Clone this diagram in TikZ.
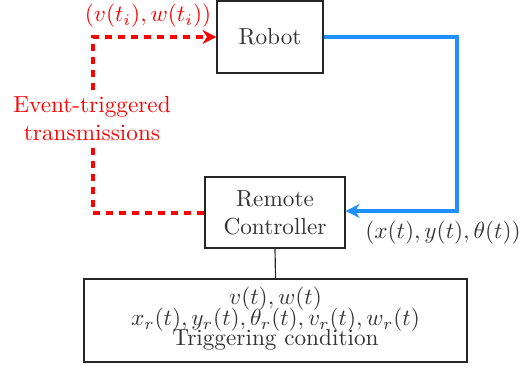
\documentclass[tikz,border=0pt]{standalone}
\usetikzlibrary{arrows.meta}
\definecolor{myblue}{RGB}{30,144,255}
\begin{document}
\begin{tikzpicture}[x=0.43pt,y=-0.43pt,
  box/.style={draw=black!85,line width=0.5pt,inner sep=0pt,text=black!80,align=center},
  lbl/.style={inner sep=0pt,align=center},
  sense/.style={draw=myblue,line width=1.3pt,-{Stealth[length=6pt,width=6pt]}},
  event/.style={draw=red,line width=1.3pt,dash pattern=on 3pt off 2.6pt,-{Stealth[length=6pt,width=6pt]}},
  wire/.style={draw=black!85,line width=0.5pt}]
\useasboundingbox (0,0) rectangle (525,369);
\node[box,minimum width=106*0.43pt,minimum height=72*0.43pt] (robot) at (270,37) {Robot};
\node[box,minimum width=140*0.43pt,minimum height=71*0.43pt] (ctrl) at (275,212.5) {Remote\\Controller};
\node[box,minimum width=383*0.43pt,minimum height=83*0.43pt] (trig) at (275.5,320.5) {};
\node[lbl,text=black!80] (l1) at (275.5,299) {$v(t), w(t)$};
\node[lbl,text=black!80] (l2) at (275.5,320) {$x_r(t), y_r(t), \theta_r(t), v_r(t), w_r(t)$};
\node[lbl,text=black!80] (l3) at (275.5,340) {Triggering condition};
\coordinate (bR) at (457,37);
\coordinate (bC) at (457,211);
\coordinate (rC) at (93,213);
\coordinate (rR) at (93,37);
\draw[sense] (robot.east) -- (bR) -- (bC) -- (ctrl.east |- bC);
\draw[event] (ctrl.west |- rC) -- (rC) -- (rR) -- (robot.west);
\node[lbl,text=red,fill=white,inner sep=2pt] (evt) at (92,119) {Event-triggered\\transmissions};
\node[lbl,text=red] (vw) at (148,16) {$(v(t_i), w(t_i))$};
\node[lbl,text=black!80] (xy) at (443,233) {$(x(t), y(t), \theta(t))$};
\draw[wire] (ctrl.south) -- (trig.north);
\end{tikzpicture}
\end{document}
